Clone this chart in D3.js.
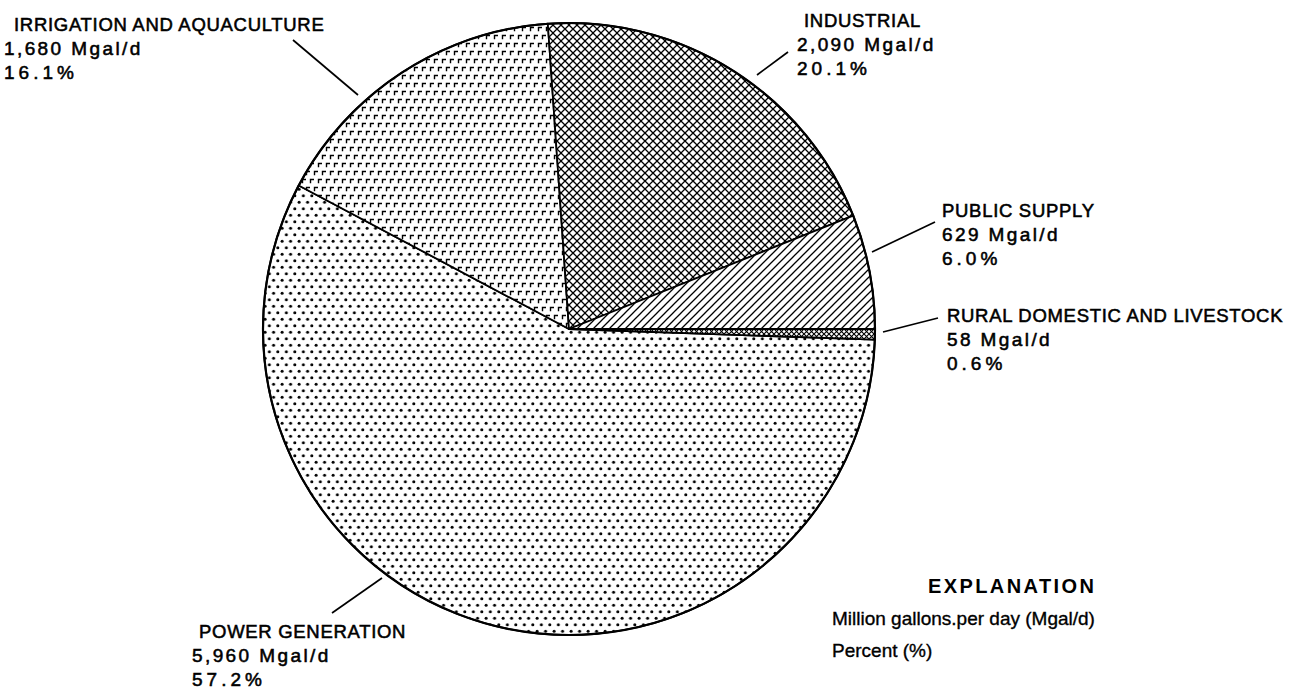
<!DOCTYPE html>
<html>
<head>
<meta charset="utf-8">
<script src="https://cdn.jsdelivr.net/npm/d3@7"></script>
<style>
  html, body { margin: 0; padding: 0; background: #fff; }
  svg { display: block; }
  text { font-family: "Liberation Sans", Arial, sans-serif; fill: #000; }
  .lbl { stroke: #000; stroke-width: 0.55px; }
</style>
</head>
<body>
<svg id="chart" width="1291" height="690"></svg>
<script>
// ---- Data ----
const categories = ["POWER GENERATION", "IRRIGATION AND AQUACULTURE", "INDUSTRIAL", "PUBLIC SUPPLY", "RURAL DOMESTIC AND LIVESTOCK"];
const values = [5960, 1680, 2090, 629, 58];           // Mgal/d
const percents = [57.2, 16.1, 20.1, 6.0, 0.6];        // %
const unitLabel = "Mgal/d";
const explanationTitle = "EXPLANATION";
const explanationLines = ["Million gallons.per day (Mgal/d)", "Percent (%)"];

// ---- Layout (positions only) ----
const cx = 569, cy = 329, radius = 306;
const startDeg = 92;
const patternIds = ["pDots", "pCorners", "pCross", "pDiag", "pCrossSmall"];
const labelLayout = [
  { x: 192, tx: 199, y: 638, leader: [382, 578, 332, 613] },
  { x: 4,   tx: 14,  y: 31,  leader: [293, 40, 358, 95] },
  { x: 797, tx: 804, y: 27,  leader: [788, 52, 757, 75] },
  { x: 942, tx: 942, y: 217, leader: [935, 222, 872, 252] },
  { x: 947, tx: 947, y: 322, leader: [938, 318, 883, 332] }
];

const svg = d3.select("#chart");
const defs = svg.append("defs");

// Dots (power generation)
const pd = defs.append("pattern").attr("id", "pDots").attr("patternUnits", "userSpaceOnUse")
  .attr("width", 8.5).attr("height", 13);
pd.append("rect").attr("width", 8.5).attr("height", 13).attr("fill", "#fff");
pd.append("circle").attr("cx", 2.1).attr("cy", 3.25).attr("r", 1.5).attr("fill", "#000");
pd.append("circle").attr("cx", 6.35).attr("cy", 9.75).attr("r", 1.5).attr("fill", "#000");

// Corner marks (irrigation)
const pc = defs.append("pattern").attr("id", "pCorners").attr("patternUnits", "userSpaceOnUse")
  .attr("width", 8).attr("height", 16);
pc.append("rect").attr("width", 8).attr("height", 16).attr("fill", "#fff");
pc.append("path").attr("d", "M1.5,6.3 V2.5 H5 M5.5,14.3 V10.5 H9 M-2.5,14.3 V10.5 H1")
  .attr("stroke", "#000").attr("stroke-width", 1.4).attr("fill", "none");

// Crosshatch (industrial)
const px = defs.append("pattern").attr("id", "pCross").attr("patternUnits", "userSpaceOnUse")
  .attr("width", 8).attr("height", 8);
px.append("rect").attr("width", 8).attr("height", 8).attr("fill", "#fff");
px.append("path").attr("d", "M-1,-1 L9,9 M-1,9 L9,-1")
  .attr("stroke", "#000").attr("stroke-width", 1.3).attr("fill", "none");

// Diagonal (public supply)
const pg = defs.append("pattern").attr("id", "pDiag").attr("patternUnits", "userSpaceOnUse")
  .attr("width", 8).attr("height", 8);
pg.append("rect").attr("width", 8).attr("height", 8).attr("fill", "#fff");
pg.append("path").attr("d", "M0,8 L8,0 M-2,2 L2,-2 M6,10 L10,6")
  .attr("stroke", "#000").attr("stroke-width", 1.3).attr("fill", "none");

// Small crosshatch (rural)
const ps = defs.append("pattern").attr("id", "pCrossSmall").attr("patternUnits", "userSpaceOnUse")
  .attr("width", 5).attr("height", 5);
ps.append("rect").attr("width", 5).attr("height", 5).attr("fill", "#fff");
ps.append("path").attr("d", "M-1,-1 L6,6 M-1,6 L6,-1")
  .attr("stroke", "#000").attr("stroke-width", 1.1).attr("fill", "none");

// ---- Pie ----
const data = categories.map((c, i) => ({ cat: c, value: values[i], pct: percents[i], i }));
const pie = d3.pie().sort(null).value(d => d.value)
  .startAngle(startDeg * Math.PI / 180)
  .endAngle(startDeg * Math.PI / 180 + 2 * Math.PI);
const arc = d3.arc().innerRadius(0).outerRadius(radius);

const g = svg.append("g").attr("transform", `translate(${cx},${cy})`);
g.selectAll("path.slice").data(pie(data)).join("path")
  .attr("class", "slice")
  .attr("d", arc)
  .attr("fill", d => `url(#${patternIds[d.data.i]})`)
  .attr("stroke", "#000")
  .attr("stroke-width", 1.8)
  .attr("stroke-linejoin", "round");

g.append("circle").attr("r", radius).attr("fill", "none").attr("stroke", "#000").attr("stroke-width", 2.2);

// ---- Labels ----
const fmt = d3.format(",");
const lg = svg.append("g");
data.forEach((d, i) => {
  const L = labelLayout[i];
  lg.append("line")
    .attr("x1", L.leader[0]).attr("y1", L.leader[1])
    .attr("x2", L.leader[2]).attr("y2", L.leader[3])
    .attr("stroke", "#000").attr("stroke-width", 1.7);
  lg.append("text").attr("class", "lbl").attr("x", L.tx).attr("y", L.y)
    .style("font-size", "18.5px").style("letter-spacing", "0.7px")
    .text(d.cat);
  lg.append("text").attr("class", "lbl").attr("x", L.x).attr("y", L.y + 24)
    .style("font-size", "19px").style("letter-spacing", "2.4px")
    .text(`${fmt(d.value)} ${unitLabel}`);
  lg.append("text").attr("class", "lbl").attr("x", L.x).attr("y", L.y + 48)
    .style("font-size", "19px").style("letter-spacing", "4px")
    .text(`${d.pct.toFixed(1)}%`);
});

// ---- Explanation ----
svg.append("text").attr("x", 928).attr("y", 593)
  .style("font-size", "20px").style("font-weight", "bold").style("letter-spacing", "2.4px")
  .text(explanationTitle);
explanationLines.forEach((t, i) => {
  svg.append("text").attr("class", "lbl").attr("x", 832).attr("y", 625 + i * 32)
    .style("font-size", "19px").style("stroke-width", "0.35px")
    .text(t);
});
</script>
</body>
</html>
